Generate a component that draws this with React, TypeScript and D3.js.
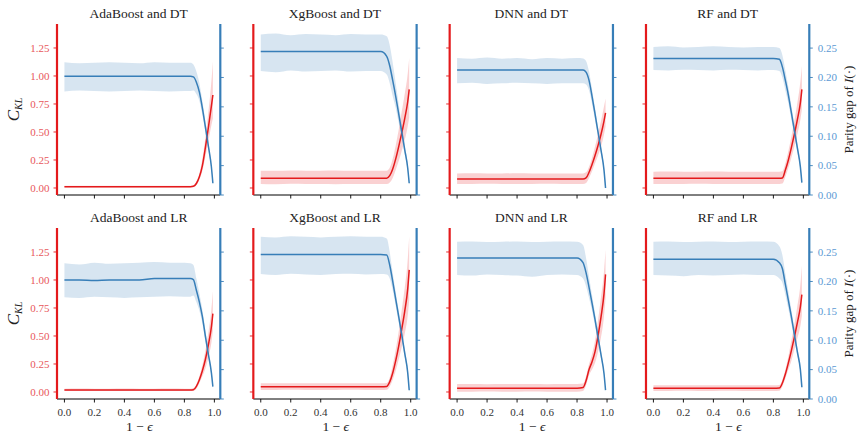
import React from "react";
import * as d3 from "d3";

// ---------- data ----------
const X = [0, 0.1, 0.2, 0.3, 0.4, 0.5, 0.6, 0.7, 0.8, 0.84, 0.86, 0.88, 0.9, 0.92, 0.94, 0.96, 0.98, 0.99];

const titles = [
  "AdaBoost and DT", "XgBoost and DT", "DNN and DT", "RF and DT",
  "AdaBoost and LR", "XgBoost and LR", "DNN and LR", "RF and LR",
];

const xTicks = [0, 0.2, 0.4, 0.6, 0.8, 1.0];
const klTicks = [0, 0.25, 0.5, 0.75, 1.0, 1.25];
const gapTicks = [0, 0.05, 0.1, 0.15, 0.2, 0.25];

// AdaBoost and DT
const adaDT_kl = [.012, .012, .012, .012, .012, .012, .012, .012, .012, .012, .015, .04, .10, .2, .36, .54, .73, .83];
const adaDT_klLo = [.004, .004, .005, .004, .004, .005, .004, .004, .004, .004, .006, .025, .075, .155, .28, .42, .56, .62];
const adaDT_klHi = [.02, .021, .02, .02, .021, .02, .02, .021, .02, .02, .025, .06, .13, .26, .45, .68, .95, 1.13];
const adaDT_gap = [.202, .202, .202, .202, .202, .202, .202, .202, .202, .202, .201, .192, .175, .148, .116, .083, .048, .02];
const adaDT_gapHi = [.226, .224, .225, .226, .225, .224, .226, .225, .225, .225, .222, .21, .19, .16, .125, .09, .052, .023];
const adaDT_gapLo = [.176, .178, .177, .176, .177, .178, .177, .176, .177, .177, .178, .172, .16, .136, .107, .076, .044, .017];

// XgBoost and DT
const xgbDT_kl = [.087, .087, .087, .087, .087, .087, .087, .087, .087, .088, .11, .17, .26, .37, .49, .62, .77, .88];
const xgbDT_klLo = [.036, .034, .037, .035, .036, .034, .036, .035, .036, .036, .05, .09, .16, .24, .33, .43, .55, .63];
const xgbDT_klHi = [.155, .153, .156, .154, .155, .157, .154, .155, .155, .155, .18, .26, .38, .52, .68, .84, 1.02, 1.16];
const xgbDT_gap = [.244, .244, .244, .244, .244, .244, .244, .244, .244, .236, .22, .195, .168, .138, .108, .077, .046, .02];
const xgbDT_gapHi = [.273, .275, .272, .274, .273, .272, .274, .273, .273, .27, .255, .225, .19, .155, .12, .086, .052, .024];
const xgbDT_gapLo = [.211, .209, .212, .21, .211, .212, .21, .211, .211, .205, .19, .168, .148, .123, .097, .069, .041, .017];

// DNN and DT
const dnnDT_kl = [.08, .08, .08, .08, .08, .08, .08, .08, .08, .08, .09, .14, .21, .29, .38, .48, .6, .67];
const dnnDT_klLo = [.036, .035, .037, .036, .035, .036, .037, .036, .036, .036, .045, .09, .15, .22, .29, .37, .48, .55];
const dnnDT_klHi = [.13, .131, .129, .13, .131, .13, .129, .13, .13, .13, .14, .19, .27, .37, .48, .6, .73, .8];
const dnnDT_gap = [.2126, .2126, .2126, .2126, .2126, .2126, .2126, .2126, .2126, .2126, .209, .195, .168, .138, .107, .076, .042, .012];
const dnnDT_gapHi = [.233, .232, .234, .232, .233, .231, .233, .232, .233, .2325, .228, .21, .18, .148, .115, .082, .047, .015];
const dnnDT_gapLo = [.19, .191, .189, .19, .191, .19, .189, .19, .19, .19, .188, .178, .155, .127, .099, .07, .037, .009];

// RF and DT
const rfDT_kl = [.087, .087, .087, .087, .087, .087, .087, .087, .087, .087, .09, .16, .25, .36, .48, .61, .76, .88];
const rfDT_klLo = [.036, .035, .036, .037, .036, .035, .036, .036, .036, .036, .04, .1, .18, .27, .37, .48, .61, .7];
const rfDT_klHi = [.146, .147, .145, .146, .147, .146, .145, .146, .146, .146, .15, .22, .33, .46, .6, .76, .95, 1.09];
const rfDT_gap = [.2325, .2325, .2325, .2325, .2325, .2325, .2325, .2325, .2325, .231, .218, .195, .17, .14, .11, .08, .048, .021];
const rfDT_gapHi = [.252, .253, .251, .252, .253, .252, .251, .252, .252, .25, .238, .212, .184, .152, .12, .087, .053, .025];
const rfDT_gapLo = [.2126, .212, .213, .2126, .212, .213, .2126, .212, .2126, .211, .2, .178, .156, .128, .1, .072, .043, .017];

// AdaBoost and LR
const adaLR_kl = [.018, .018, .018, .018, .018, .018, .018, .018, .018, .018, .02, .05, .11, .19, .29, .42, .58, .7];
const adaLR_klLo = [.008, .008, .009, .008, .008, .009, .008, .008, .008, .008, .01, .03, .08, .14, .21, .31, .44, .55];
const adaLR_klHi = [.03, .031, .03, .03, .031, .03, .03, .031, .03, .03, .035, .07, .14, .24, .37, .53, .74, .9];
const adaLR_gap = [.2024, .2024, .2015, .2024, .2024, .2024, .205, .205, .205, .205, .203, .185, .165, .14, .107, .076, .045, .021];
const adaLR_gapHi = [.231, .229, .232, .23, .231, .232, .233, .232, .232, .231, .228, .205, .18, .152, .117, .084, .05, .024];
const adaLR_gapLo = [.173, .172, .174, .173, .172, .173, .174, .175, .174, .174, .176, .165, .15, .128, .097, .068, .04, .018];

// XgBoost and LR
const xgbLR_kl = [.047, .047, .047, .047, .047, .047, .047, .047, .047, .05, .09, .17, .28, .41, .56, .72, .92, 1.09];
const xgbLR_klLo = [.018, .017, .019, .018, .017, .018, .019, .018, .018, .02, .05, .11, .19, .29, .4, .52, .68, .82];
const xgbLR_klHi = [.078, .079, .077, .078, .079, .078, .077, .078, .078, .08, .13, .24, .38, .54, .73, .93, 1.18, 1.39];
const xgbLR_gap = [.246, .246, .246, .246, .246, .246, .246, .246, .246, .245, .228, .2, .17, .14, .11, .078, .045, .015];
const xgbLR_gapHi = [.276, .275, .277, .276, .275, .276, .277, .276, .276, .273, .25, .215, .182, .15, .118, .085, .05, .018];
const xgbLR_gapLo = [.2126, .211, .213, .212, .211, .2126, .213, .212, .2126, .212, .205, .185, .158, .13, .102, .071, .04, .012];

// DNN and LR
const dnnLR_kl = [.033, .033, .033, .033, .033, .033, .033, .033, .033, .04, .1, .2, .27, .36, .5, .67, .88, 1.05];
const dnnLR_klLo = [.003, .003, .004, .003, .003, .004, .003, .003, .003, .01, .06, .15, .2, .26, .36, .49, .68, .84];
const dnnLR_klHi = [.071, .072, .07, .071, .072, .071, .07, .071, .071, .075, .14, .25, .34, .46, .64, .85, 1.08, 1.27];
const dnnLR_gap = [.24, .24, .24, .24, .24, .24, .24, .24, .24, .232, .215, .19, .163, .135, .105, .075, .043, .015];
const dnnLR_gapHi = [.2675, .268, .267, .2675, .268, .267, .2675, .268, .2675, .262, .24, .208, .177, .146, .113, .081, .047, .018];
const dnnLR_gapLo = [.211, .21, .212, .211, .21, .208, .211, .212, .211, .205, .192, .172, .15, .124, .097, .069, .039, .012];

// RF and LR
const rfLR_kl = [.033, .033, .033, .033, .033, .033, .033, .033, .033, .035, .08, .16, .26, .37, .49, .62, .76, .87];
const rfLR_klLo = [.01, .01, .011, .01, .01, .011, .01, .01, .01, .012, .05, .12, .2, .28, .38, .48, .59, .68];
const rfLR_klHi = [.06, .061, .06, .06, .061, .06, .06, .061, .06, .062, .11, .2, .32, .46, .6, .77, .96, 1.13];
const rfLR_gap = [.238, .238, .238, .238, .238, .238, .238, .238, .238, .232, .222, .195, .168, .14, .11, .08, .05, .02];
const rfLR_gapHi = [.2675, .268, .267, .2675, .268, .267, .2675, .268, .2675, .26, .245, .213, .183, .152, .12, .087, .055, .024];
const rfLR_gapLo = [.211, .21, .209, .211, .21, .211, .212, .211, .211, .205, .198, .177, .153, .128, .1, .073, .045, .016];

const panels = [
  { title: titles[0], kl: adaDT_kl, klLo: adaDT_klLo, klHi: adaDT_klHi, gap: adaDT_gap, gapLo: adaDT_gapLo, gapHi: adaDT_gapHi },
  { title: titles[1], kl: xgbDT_kl, klLo: xgbDT_klLo, klHi: xgbDT_klHi, gap: xgbDT_gap, gapLo: xgbDT_gapLo, gapHi: xgbDT_gapHi },
  { title: titles[2], kl: dnnDT_kl, klLo: dnnDT_klLo, klHi: dnnDT_klHi, gap: dnnDT_gap, gapLo: dnnDT_gapLo, gapHi: dnnDT_gapHi },
  { title: titles[3], kl: rfDT_kl, klLo: rfDT_klLo, klHi: rfDT_klHi, gap: rfDT_gap, gapLo: rfDT_gapLo, gapHi: rfDT_gapHi },
  { title: titles[4], kl: adaLR_kl, klLo: adaLR_klLo, klHi: adaLR_klHi, gap: adaLR_gap, gapLo: adaLR_gapLo, gapHi: adaLR_gapHi },
  { title: titles[5], kl: xgbLR_kl, klLo: xgbLR_klLo, klHi: xgbLR_klHi, gap: xgbLR_gap, gapLo: xgbLR_gapLo, gapHi: xgbLR_gapHi },
  { title: titles[6], kl: dnnLR_kl, klLo: dnnLR_klLo, klHi: dnnLR_klHi, gap: dnnLR_gap, gapLo: dnnLR_gapLo, gapHi: dnnLR_gapHi },
  { title: titles[7], kl: rfLR_kl, klLo: rfLR_klLo, klHi: rfLR_klHi, gap: rfLR_gap, gapLo: rfLR_gapLo, gapHi: rfLR_gapHi },
];

// ---------- layout / style ----------
const W = 857, H = 434;
const COL_LEFT = 57, COL_STEP = 196.33, PW = 163.3;
const ROW_TOP = [24, 228], PH = 171;
const RED = "#e41a1c", BLUE = "#377eb8";
const RED_TXT = "#e8585c", BLUE_TXT = "#5b9ad4";
const FONT = "'Liberation Serif', 'DejaVu Serif', serif";

const fmt1 = d3.format(".1f");
const fmt2 = d3.format(".2f");

function Panel({ p, col, row }: any) {
  const left = COL_LEFT + col * COL_STEP;
  const top = ROW_TOP[row];
  const x = d3.scaleLinear().domain([-0.0495, 1.0395]).range([0, PW]);
  const yL = d3.scaleLinear().domain([-0.0625, 1.464]).range([PH, 0]);
  const yR = d3.scaleLinear().domain([0, 0.291]).range([PH, 0]);
  const idx = X.map((_, i) => i);
  const klArea = d3.area<number>().x(i => x(X[i])).y0(i => yL(p.klLo[i])).y1(i => yL(p.klHi[i])).curve(d3.curveMonotoneX);
  const klLine = d3.line<number>().x(i => x(X[i])).y(i => yL(p.kl[i])).curve(d3.curveMonotoneX);
  const gapArea = d3.area<number>().x(i => x(X[i])).y0(i => yR(p.gapLo[i])).y1(i => yR(p.gapHi[i])).curve(d3.curveMonotoneX);
  const gapLine = d3.line<number>().x(i => x(X[i])).y(i => yR(p.gap[i])).curve(d3.curveMonotoneX);
  const TL = 3.5;
  return (
    <g transform={`translate(${left},${top})`}>
      <path d={klArea(idx) || ""} fill={RED} fillOpacity={0.2} stroke="none" />
      <path d={klLine(idx) || ""} fill="none" stroke={RED} strokeWidth={1.5} />
      <path d={gapArea(idx) || ""} fill={BLUE} fillOpacity={0.2} stroke="none" />
      <path d={gapLine(idx) || ""} fill="none" stroke={BLUE} strokeWidth={1.5} />
      {/* x axis */}
      <line x1={0} x2={PW} y1={PH} y2={PH} stroke="#000" strokeWidth={1} />
      {xTicks.map(t => (
        <g key={"x" + t}>
          <line x1={x(t)} x2={x(t)} y1={PH} y2={PH + TL} stroke="#000" strokeWidth={0.9} />
          {row === 1 && (
            <text x={x(t)} y={PH + 16.5} textAnchor="middle" fontSize={11} fill="#333" fontFamily={FONT}>{fmt1(t)}</text>
          )}
        </g>
      ))}
      {/* left axis */}
      {klTicks.map(t => (
        <g key={"l" + t}>
          <line x1={-TL} x2={0} y1={yL(t)} y2={yL(t)} stroke={RED} strokeWidth={0.9} />
          {col === 0 && (
            <text x={-7.5} y={yL(t) + 3.8} textAnchor="end" fontSize={11} fill={RED_TXT} fontFamily={FONT}>{fmt2(t)}</text>
          )}
        </g>
      ))}
      <line x1={0} x2={0} y1={0} y2={PH} stroke={RED} strokeWidth={2.2} />
      {/* right axis */}
      {gapTicks.map(t => (
        <g key={"r" + t}>
          <line x1={PW} x2={PW + TL} y1={yR(t)} y2={yR(t)} stroke={BLUE} strokeWidth={0.9} />
          {col === 3 && (
            <text x={PW + 8.5} y={yR(t) + 3.8} textAnchor="start" fontSize={11} fill={BLUE_TXT} fontFamily={FONT}>{fmt2(t)}</text>
          )}
        </g>
      ))}
      <line x1={PW} x2={PW} y1={0} y2={PH} stroke={BLUE} strokeWidth={2.2} />
      {/* title */}
      <text x={PW / 2} y={-6.5} textAnchor="middle" fontSize={13.5} fill="#222" fontFamily={FONT}>{p.title}</text>
      {row === 1 && (
        <text x={x(0.5)} y={PH + 32} textAnchor="middle" fontSize={13.5} fill="#222" fontFamily={FONT}>
          1 − <tspan fontStyle="italic">ϵ</tspan>
        </text>
      )}
      {col === 0 && (
        <text transform={`translate(${-38},${PH / 2}) rotate(-90)`} textAnchor="middle" fontSize={17} fill="#222" fontFamily={FONT}>
          <tspan fontStyle="italic">C</tspan>
          <tspan fontStyle="italic" fontSize={10} dy={3}>KL</tspan>
        </text>
      )}
      {col === 3 && (
        <text transform={`translate(${PW + 44},${PH / 2}) rotate(-90)`} textAnchor="middle" fontSize={13} fill="#222" fontFamily={FONT}>
          Parity gap of <tspan fontStyle="italic">I</tspan>(·)
        </text>
      )}
    </g>
  );
}

export default function App() {
  return (
    <svg width={W} height={H} style={{ position: "absolute", left: 0, top: 0, background: "#fff" }}>
      <rect width={W} height={H} fill="#fff" />
      {panels.map((p, i) => (
        <Panel key={i} p={p} col={i % 4} row={Math.floor(i / 4)} />
      ))}
    </svg>
  );
}
